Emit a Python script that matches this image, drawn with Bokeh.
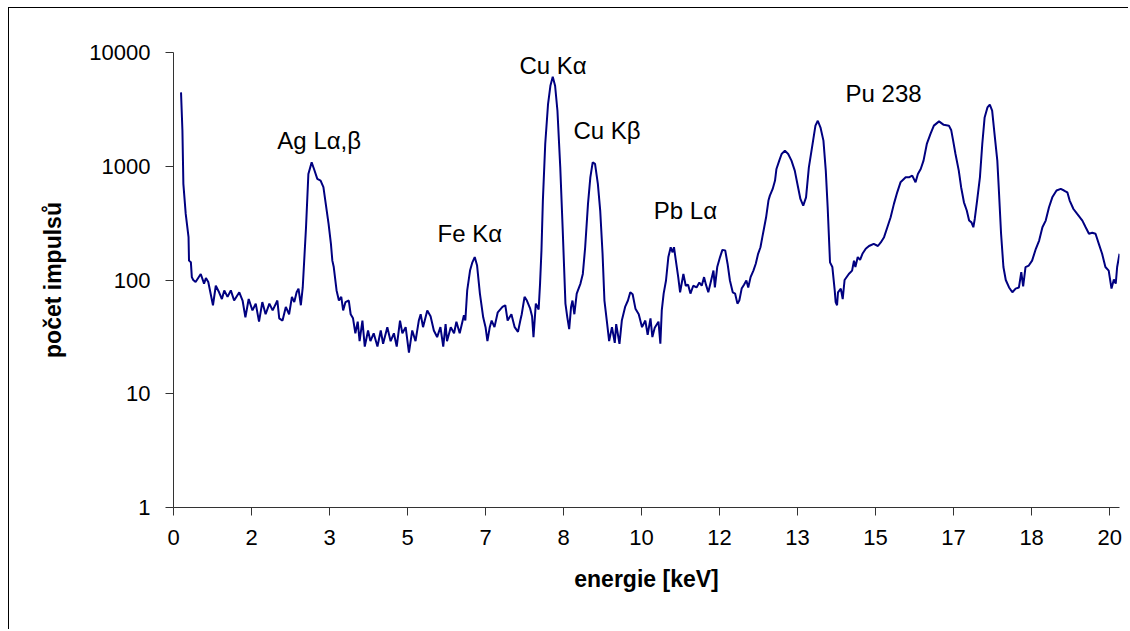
from bokeh.plotting import figure
from bokeh.models import Range1d, FixedTicker, PrintfTickFormatter, Label
from bokeh.embed import file_html
from bokeh.resources import INLINE

# ---- data ----
energy_kev = [
    0.16, 0.19, 0.21, 0.26, 0.32, 0.33, 0.37, 0.39, 0.42, 0.47,
    0.58, 0.65, 0.69, 0.74, 0.84, 0.90, 0.97, 1.03, 1.08, 1.15,
    1.22, 1.29, 1.40, 1.47, 1.53, 1.60, 1.68, 1.75, 1.82, 1.89,
    1.96, 2.04, 2.11, 2.21, 2.25, 2.32, 2.39, 2.46, 2.52, 2.57,
    2.62, 2.66, 2.71, 2.75, 2.82, 2.87, 2.94, 2.99, 3.06, 3.13,
    3.19, 3.24, 3.30, 3.35, 3.38, 3.41, 3.47, 3.52, 3.57, 3.61,
    3.66, 3.73, 3.77, 3.82, 3.87, 3.92, 3.96, 4.02, 4.07, 4.14,
    4.19, 4.26, 4.34, 4.41, 4.46, 4.55, 4.62, 4.69, 4.75, 4.82,
    4.87, 4.94, 5.01, 5.08, 5.15, 5.22, 5.26, 5.31, 5.40, 5.47,
    5.54, 5.61, 5.68, 5.74, 5.79, 5.82, 5.90, 5.97, 6.02, 6.09,
    6.18, 6.21, 6.25, 6.31, 6.36, 6.41, 6.46, 6.52, 6.59, 6.64,
    6.68, 6.73, 6.77, 6.83, 6.90, 7.00, 7.06, 7.11, 7.19, 7.26,
    7.33, 7.38, 7.41, 7.47, 7.52, 7.59, 7.63, 7.66, 7.71, 7.77,
    7.80, 7.83, 7.86, 7.91, 7.97, 8.02, 8.07, 8.12, 8.17, 8.23,
    8.28, 8.34, 8.38, 8.42, 8.46, 8.49, 8.53, 8.58, 8.66, 8.71,
    8.76, 8.82, 8.87, 8.92, 8.97, 9.03, 9.08, 9.13, 9.17, 9.22,
    9.27, 9.33, 9.39, 9.42, 9.49, 9.54, 9.61, 9.67, 9.72, 9.77,
    9.83, 9.90, 9.97, 10.04, 10.09, 10.15, 10.19, 10.24, 10.32, 10.36,
    10.39, 10.43, 10.48, 10.53, 10.58, 10.62, 10.65, 10.69, 10.74, 10.78,
    10.85, 10.90, 10.95, 11.00, 11.06, 11.13, 11.19, 11.24, 11.29, 11.33,
    11.38, 11.43, 11.49, 11.52, 11.57, 11.63, 11.68, 11.74, 11.79, 11.84,
    11.90, 11.95, 12.00, 12.04, 12.09, 12.14, 12.19, 12.23, 12.28, 12.34,
    12.39, 12.44, 12.49, 12.53, 12.57, 12.61, 12.66, 12.69, 12.75, 12.80,
    12.83, 12.89, 12.94, 13.01, 13.08, 13.15, 13.22, 13.29, 13.34, 13.40,
    13.46, 13.52, 13.61, 13.66, 13.71, 13.77, 13.83, 13.88, 13.92, 13.97,
    14.02, 14.07, 14.09, 14.12, 14.14, 14.20, 14.24, 14.28, 14.37, 14.44,
    14.48, 14.51, 14.56, 14.61, 14.66, 14.73, 14.80, 14.90, 14.99, 15.05,
    15.12, 15.19, 15.26, 15.33, 15.40, 15.47, 15.58, 15.65, 15.72, 15.79,
    15.84, 15.90, 15.96, 16.03, 16.11, 16.18, 16.29, 16.39, 16.50, 16.55,
    16.59, 16.64, 16.71, 16.76, 16.82, 16.88, 16.93, 16.98, 17.02, 17.05,
    17.10, 17.16, 17.21, 17.26, 17.32, 17.37, 17.42, 17.47, 17.53, 17.56,
    17.61, 17.66, 17.71, 17.78, 17.85, 17.92, 17.99, 18.04, 18.08, 18.13,
    18.20, 18.27, 18.35, 18.42, 18.49, 18.56, 18.63, 18.70, 18.79, 18.88,
    18.95, 19.02, 19.07, 19.15, 19.23, 19.34, 19.41, 19.48, 19.55, 19.62,
    19.69, 19.76, 19.83, 19.90, 19.96, 20.01, 20.05, 20.08, 20.13,
]

counts = [
    4460, 2055, 700, 381, 238, 148, 143, 106, 100, 96,
    113, 93, 104, 96, 60, 89, 78, 68, 81, 71,
    81, 66, 78, 66, 47, 68, 54, 62, 43, 64,
    50, 62, 54, 66, 46, 44, 58, 50, 71, 64,
    78, 84, 60, 86, 291, 856, 1082, 946, 774, 748,
    654, 467, 311, 208, 148, 130, 81, 66, 71, 54,
    64, 66, 50, 46, 34, 43, 29, 44, 26, 36,
    29, 34, 26, 36, 27.5, 38.5, 29, 34, 26, 44,
    34, 38.5, 23, 36, 29, 44, 50, 38.5, 54, 48,
    36, 31.5, 38.5, 26, 41, 29, 38.5, 34, 43, 34,
    49, 44, 81, 121, 143, 159, 134, 76, 47, 38.5,
    29, 38.5, 44, 38.5, 52, 58, 60, 44, 50, 38.5,
    35, 44, 50, 71, 66, 56, 48, 31.5, 62, 55,
    93, 182, 499, 1570, 3524, 5100, 6120, 5100, 3077, 978,
    291, 62, 47, 37, 58, 66, 50, 76, 93, 113,
    194, 467, 799, 1082, 1050, 700, 408, 170, 66, 44,
    29, 38.5, 28, 41, 27.5, 44, 58, 66, 78, 75,
    56, 50, 38.5, 44, 33, 46, 31.5, 38, 43, 27.5,
    54, 76, 99, 159, 194, 175, 194, 148, 106, 78,
    113, 89, 91, 76, 89, 86, 95, 89, 106, 91,
    78, 95, 121, 86, 130, 159, 184, 182, 139, 99,
    78, 76, 62, 66, 84, 91, 99, 86, 106, 121,
    139, 170, 194, 238, 291, 356, 499, 552, 632, 748,
    946, 1120, 1282, 1371, 1282, 1120, 915, 654, 516, 451,
    533, 978, 1679, 2275, 2512, 2170, 1679, 915, 436, 143,
    130, 81, 64, 60, 78, 84, 68, 100, 113, 121,
    148, 130, 159, 150, 170, 188, 199, 208, 199, 214,
    238, 291, 356, 467, 590, 722, 799, 799, 828, 722,
    856, 946, 1120, 1570, 1935, 2275, 2480, 2312, 2275, 2070,
    1679, 1282, 915, 654, 482, 408, 333, 321, 291, 344,
    499, 799, 1570, 2688, 3289, 3475, 3077, 1935, 1120, 654,
    255, 130, 100, 86, 78, 84, 86, 117, 88, 130,
    134, 148, 188, 222, 291, 333, 436, 533, 612, 632,
    612, 590, 499, 421, 381, 333, 291, 255, 260, 255,
    208, 170, 130, 121, 84, 101, 93, 130, 170,
]

x_tick_pos = [0, 1.66, 3.32, 4.98, 6.64, 8.3, 9.96, 11.62, 13.28, 14.94, 16.6, 18.26, 19.92]
x_tick_labels = ["0", "2", "3", "5", "7", "8", "10", "12", "13", "15", "17", "18", "20"]
y_ticks = [1, 10, 100, 1000, 10000]

peak_labels = ["Ag L\u03b1,\u03b2", "Fe K\u03b1", "Cu K\u03b1", "Cu K\u03b2", "Pb L\u03b1", "Pu 238"]
peak_label_x = [2.21, 5.62, 7.36, 8.51, 10.22, 14.30]
peak_label_y = [1680, 256, 7640, 2055, 408, 4340]

x_title = "energie [keV]"
y_title = "po\u010det impuls\u016f"

assert len(energy_kev) == len(counts)

FONT = "Liberation Sans"

p = figure(
    width=1120, height=622,
    output_backend="svg", toolbar_location=None,
    x_range=Range1d(0, 20.13), y_range=Range1d(1, 10000),
    y_axis_type="log",
    min_border_left=164, min_border_right=10,
    min_border_top=44, min_border_bottom=123,
    background_fill_color="white", border_fill_color="white",
)
p.styles = {"border-left": "1px solid black", "border-top": "1px solid black",
            "margin-left": "8px", "margin-top": "7px"}
p.outline_line_color = None
p.xgrid.visible = False
p.ygrid.visible = False

p.line(energy_kev, counts, line_color="#000080", line_width=2)

xa = p.xaxis[0]
xa.ticker = FixedTicker(ticks=x_tick_pos, minor_ticks=[])
xa.major_label_overrides = {t: l for t, l in zip(x_tick_pos, x_tick_labels)}
ya = p.yaxis[0]
ya.ticker = FixedTicker(ticks=y_ticks, minor_ticks=[])
ya.formatter = PrintfTickFormatter(format="%d")

for ax in (xa, ya):
    ax.axis_line_color = "#333333"
    ax.axis_line_width = 1
    ax.major_tick_line_color = "#333333"
    ax.major_tick_in = 0
    ax.major_tick_out = 8
    ax.minor_tick_line_color = None
    ax.major_label_text_font = FONT
    ax.major_label_text_font_size = "22px"
    ax.major_label_text_color = "black"
    ax.axis_label_text_font = FONT
    ax.axis_label_text_font_size = "23px"
    ax.axis_label_text_font_style = "bold"
    ax.axis_label_text_color = "black"

xa.axis_label = x_title
ya.axis_label = y_title
xa.major_label_standoff = 14
ya.major_label_standoff = 15
xa.axis_label_standoff = 18
ya.axis_label_standoff = 20

for txt, lx, ly in zip(peak_labels, peak_label_x, peak_label_y):
    p.add_layout(Label(x=lx, y=ly, text=txt, text_font=FONT, text_font_size="24px",
                       text_color="black", text_align="left", text_baseline="alphabetic"))

open("out.html", "w").write(file_html(p, INLINE))
